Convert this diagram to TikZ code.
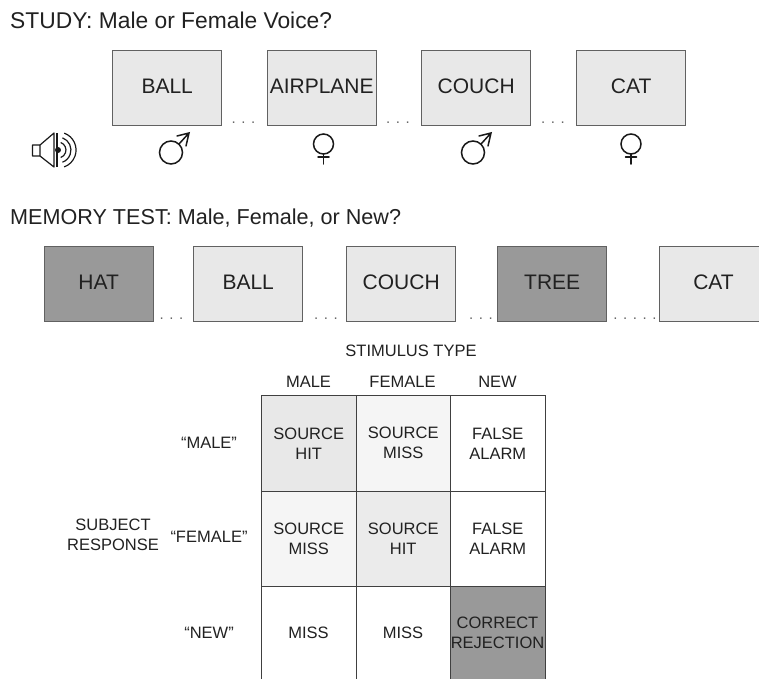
\documentclass[tikz,border=0pt]{standalone}
\usepackage{fontspec}
\setmainfont{Liberation Sans}
\definecolor{boxedge}{gray}{0.38}
\definecolor{txt}{gray}{0.13}
\tikzset{
  x=1pt,y=-1pt,
  stim/.style={draw=boxedge,line width=1.4pt,minimum width=109pt,minimum height=75pt,inner sep=0pt,anchor=north west,font=\fontsize{21}{23}\selectfont,text=txt,text height=15pt,text depth=4pt},
  oldbox/.style={stim,fill=black!9},
  newbox/.style={stim,fill=black!40},
  title/.style={anchor=base west,inner sep=0pt,text=txt},
  label/.style={inner sep=0pt,font=\fontsize{16.5}{20}\selectfont,text=txt,align=center},
  cell/.style={draw=black!75,line width=1pt,minimum width=94.5pt,minimum height=95.5pt,inner sep=0pt,anchor=north west,font=\fontsize{16.5}{20}\selectfont,text=txt,align=center},
  dotsn/.style={inner sep=0pt,font=\fontsize{15}{17}\selectfont,text=black!60},
  sym/.style={draw=black!90,line width=1.5pt,line cap=round},
}
\newcommand{\maleSym}[2]{%
  \begin{scope}[shift={(#1,#2)}]
    \draw[sym] (-5,3.5) circle (11.5);
    \draw[sym] (3,-5) -- (13,-16) (1,-13) -- (13,-16) -- (10,-3);
  \end{scope}}
\newcommand{\femaleSym}[2]{%
  \begin{scope}[shift={(#1,#2)}]
    \draw[sym] (0,-5) circle (10);
    \draw[sym] (0,5) -- (0,15) (-5.5,8) -- (5.5,8);
  \end{scope}}
\begin{document}
\begin{tikzpicture}
\useasboundingbox (0,0) rectangle (759,678);
\clip (0,0) rectangle (759,678);
% titles
\node[title,font=\fontsize{22.8}{24}\selectfont] (studytitle) at (10,28) {STUDY: Male or Female Voice?};
\node[title,font=\fontsize{21.6}{24}\selectfont] (testtitle) at (10,224) {MEMORY TEST: Male, Female, or New?};
% study row
\node[oldbox] (s1) at (112,50) {BALL};
\node[oldbox] (s2) at (266.5,50) {AIRPLANE};
\node[oldbox] (s3) at (421,50) {COUCH};
\node[oldbox] (s4) at (576,50) {CAT};
\node[dotsn] (sd1) at (243.5,123) {. . .};
\node[dotsn] (sd2) at (398,123) {. . .};
\node[dotsn] (sd3) at (553,123) {. . .};
% speaker
\draw[sym,line width=1.2pt,line join=round] (32.5,145) -- (40,145) -- (54,133) -- (54,167) -- (40,156) -- (32.5,156) -- cycle (40,145) -- (40,156);
\draw[black!90,line width=1.2pt] (60.7,142.5) arc (-70:70:8) (62.4,137.8) arc (-70:70:13) (64.2,133.1) arc (-70:70:18);
\draw[black!90,line width=2pt] (56.5,133) -- (56.5,167);
\fill[black!90] (58,150) circle (3);
\maleSym{176}{149}
\femaleSym{323.5}{149}
\maleSym{478}{149}
\femaleSym{631}{149}
% test row
\node[newbox] (t1) at (43.5,246) {HAT};
\node[oldbox] (t2) at (193,246) {BALL};
\node[oldbox] (t3) at (346,246) {COUCH};
\node[newbox] (t4) at (497,246) {TREE};
\node[oldbox,minimum width=130pt] (t5) at (659,246) {};
\node[inner sep=0pt,font=\fontsize{21}{23}\selectfont,text=txt] (t5l) at (713.5,282) {CAT};
\node[dotsn] (td1) at (171.5,319) {. . .};
\node[dotsn] (td2) at (326,319) {. . .};
\node[dotsn] (td3) at (481,319) {. . .};
\node[dotsn] (td4) at (635,319) {. . . . .};
% matrix headers
\node[label] (stype) at (411,351) {STIMULUS TYPE};
\node[label] (cm) at (308.5,382) {MALE};
\node[label] (cf) at (402.5,382) {FEMALE};
\node[label] (cn) at (497.5,382) {NEW};
\node[label] (rm) at (209,443) {“MALE”};
\node[label] (rf) at (209,537) {“FEMALE”};
\node[label] (rn) at (209,633) {“NEW”};
\node[label] (subj) at (113,535) {SUBJECT\\RESPONSE};
% matrix cells
\node[cell,fill=black!9] (c11) at (261,395) {SOURCE\\HIT};
\node[cell,fill=black!4] (c12) at (355.5,395) {SOURCE\\MISS};
\node[cell,fill=white] (c13) at (450,395) {FALSE\\ALARM};
\node[cell,fill=black!4] (c21) at (261,490.5) {SOURCE\\MISS};
\node[cell,fill=black!8] (c22) at (355.5,490.5) {SOURCE\\HIT};
\node[cell,fill=white] (c23) at (450,490.5) {FALSE\\ALARM};
\node[cell,fill=white,minimum height=110pt] (c31) at (261,586) {};
\node[cell,fill=white,minimum height=110pt] (c32) at (355.5,586) {};
\node[cell,fill=black!40,minimum height=110pt] (c33) at (450,586) {};
\node[label] (l31) at (308.5,633) {MISS};
\node[label] (l32) at (403,633) {MISS};
\node[label] (l33) at (497.5,633) {CORRECT\\REJECTION};
\end{tikzpicture}
\end{document}
